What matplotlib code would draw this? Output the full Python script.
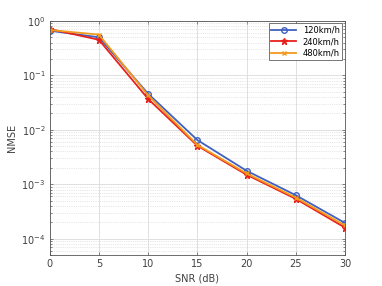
import numpy as np
import matplotlib
matplotlib.use("Agg")
import matplotlib.pyplot as plt

snr = [0, 5, 10, 15, 20, 25, 30]
nmse_120 = [0.66, 0.50, 0.046, 0.0065, 0.00177, 6.3e-4, 1.95e-4]
nmse_240 = [0.71, 0.45, 0.037, 0.0051, 0.0015, 5.4e-4, 1.6e-4]
nmse_480 = [0.68, 0.56, 0.043, 0.0053, 0.00158, 5.7e-4, 1.75e-4]
labels = ["120km/h", "240km/h", "480km/h"]

plt.rcParams['font.family'] = ['DejaVu Sans']
plt.rcParams['font.size'] = 7

fig = plt.figure(figsize=(3.82, 2.86), dpi=100)
ax = fig.add_axes([0.13, 0.108, 0.773, 0.819])

ax.semilogy(snr, nmse_120, color="#4060c0", marker="o", mfc="none",
            ms=4, lw=1.3, mew=1.0, label=labels[0])
ax.semilogy(snr, nmse_240, color="#e8201c", marker="*", ms=4.5,
            lw=1.3, mew=1.0, label=labels[1])
ax.semilogy(snr, nmse_480, color="#f39a1c", marker="x", ms=3.5,
            lw=1.3, mew=1.0, label=labels[2])

ax.set_xlim(0, 30)
ax.set_ylim(5e-5, 1)
ax.set_xticks(snr)
ax.set_xlabel("SNR (dB)", color="#404040", labelpad=3)
ax.set_ylabel("NMSE", color="#404040", labelpad=3)

ax.grid(True, which="major", color="#e0e0e0", lw=0.7)
ax.grid(True, which="minor", color="#d0d0d0", lw=0.5, ls=":")
ax.tick_params(which="both", direction="in", colors="#555555", labelcolor="#404040",
               length=2.5, width=0.5, top=True, right=True, pad=3)
ax.tick_params(which="minor", length=1.5)
for s in ax.spines.values():
    s.set_color("#555555")
    s.set_linewidth(0.6)

leg = ax.legend(loc="upper right", fancybox=False, framealpha=1, edgecolor="#404040",
                fontsize=6, borderaxespad=0.3, handlelength=3, labelspacing=0.3,
                borderpad=0.3)
leg.get_frame().set_linewidth(0.5)

fig.savefig("out.png", dpi=100)
